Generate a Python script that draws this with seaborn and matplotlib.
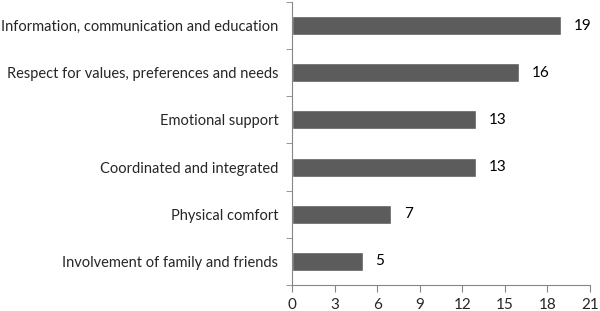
import pandas as pd
import numpy as np
import matplotlib
matplotlib.use("Agg")
import matplotlib.pyplot as plt
import seaborn as sns

categories = ["Information, communication and education",
              "Respect for values, preferences and needs",
              "Emotional support",
              "Coordinated and integrated",
              "Physical comfort",
              "Involvement of family and friends"]
counts = [19, 16, 13, 13, 7, 5]
xticks = [0, 3, 6, 9, 12, 15, 18, 21]

df = pd.DataFrame({"category": categories, "count": counts})

sns.set_style("white")
plt.rcParams["font.family"] = ["Lato", "DejaVu Sans"]

fig = plt.figure(figsize=(6, 3.11), dpi=100)
ax = fig.add_axes([0.487, 0.0836, 0.496, 0.91])

sns.barplot(data=df, x="count", y="category", orient="h", color="#5c5c5c",
            width=0.4, saturation=1, ax=ax)

for i, v in enumerate(counts):
    ax.annotate(str(v), (v, i), xytext=(9, 0), textcoords="offset points",
                va="center", ha="left", fontsize=11, color="black")

ax.set_xlim(0, 21)
ax.set_xticks(xticks)
ax.set_ylim(len(categories) - 0.5, -0.5)
ax.set_xlabel("")
ax.set_ylabel("")

# Excel-style ticks between categories
ax.set_yticks(np.arange(-0.5, len(categories), 1.0), minor=True)
ax.tick_params(axis="y", which="major", length=0, labelsize=10.5, pad=10)
ax.tick_params(axis="y", which="minor", length=4, color="#868686", left=True)
ax.tick_params(axis="x", length=5, color="#868686", labelsize=11, bottom=True, pad=4)

for s in ["top", "right"]:
    ax.spines[s].set_visible(False)
for s in ["left", "bottom"]:
    ax.spines[s].set_color("#868686")
    ax.spines[s].set_linewidth(0.8)

fig.savefig("out.png", dpi=100)
